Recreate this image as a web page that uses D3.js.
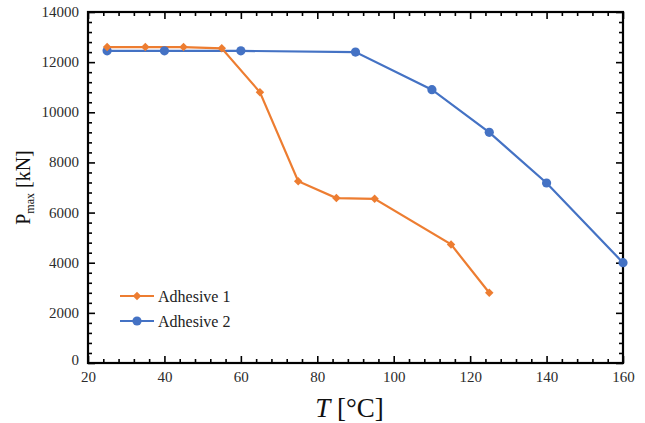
<!DOCTYPE html>
<html>
<head>
<meta charset="utf-8">
<script src="https://cdn.jsdelivr.net/npm/d3@7"></script>
<style>
  body { margin: 0; background: #fff; }
</style>
</head>
<body>
<script>
// data
var temp1 = [25, 35, 45, 55, 65, 75, 85, 95, 115, 125];
var pmax1 = [12600, 12600, 12600, 12550, 10800, 7250, 6580, 6550, 4730, 2800];
var temp2 = [25, 40, 60, 90, 110, 125, 140, 160];
var pmax2 = [12450, 12450, 12450, 12400, 10900, 9200, 7180, 4000];
var seriesNames = ["Adhesive 1", "Adhesive 2"];
var xTicks = [20, 40, 60, 80, 100, 120, 140, 160];
var yTicks = [0, 2000, 4000, 6000, 8000, 10000, 12000, 14000];

var svgWidth = 645, svgHeight = 423;
var margin = {top: 12, right: 22, bottom: 60, left: 88},
    width = svgWidth - margin.left - margin.right,
    height = svgHeight - margin.top - margin.bottom;

var orange = "#ED7D31", blue = "#4472C4";
var serif = "Times New Roman, Liberation Serif, DejaVu Serif";

var svg = d3.select("body").append("svg")
    .attr("width", svgWidth)
    .attr("height", svgHeight);
var g = svg.append("g")
    .attr("transform", "translate(" + margin.left + "," + margin.top + ")");

var x = d3.scaleLinear().domain([20, 160]).range([0, width]);
var y = d3.scaleLinear().domain([0, 14000]).range([height, 0]);

var xMinor = d3.range(20, 160.1, 4).filter(function(v) { return v % 20 != 0; });
var yMinor = d3.range(0, 14000.1, 400).filter(function(v) { return v % 2000 != 0; });

// inward ticks on all four sides
function tickAxis(axis, major, minor, transform, labels) {
  var a = g.append("g").attr("transform", transform);
  a.call(axis.tickValues(minor).tickSize(-4).tickFormat(""));
  var b = g.append("g").attr("transform", transform);
  b.call(axis.tickValues(major).tickSize(-7).tickFormat(labels ? d3.format("d") : ""));
  [a, b].forEach(function(s) {
    s.attr("font-family", serif).attr("font-size", 15);
    s.select(".domain").remove();
    s.selectAll(".tick line").attr("stroke", "#000").attr("stroke-width", 1.6);
    s.selectAll(".tick text").attr("fill", "#2b2b2b");
  });
  return b;
}

var xb = tickAxis(d3.axisBottom(x), xTicks, xMinor, "translate(0," + height + ")", true);
xb.selectAll(".tick text").attr("dy", "1.05em").attr("y", 3);
tickAxis(d3.axisTop(x), xTicks, xMinor, "translate(0,0)", false);
var yl = tickAxis(d3.axisLeft(y), yTicks, yMinor, "translate(0,0)", true);
yl.selectAll(".tick text").attr("x", -9).attr("dy", "0.3em");
yl.selectAll(".tick").filter(function(d) { return d === 0; }).select("text").attr("dy", "0.1em");
tickAxis(d3.axisRight(y), yTicks, yMinor, "translate(" + width + ",0)", false);

// frame
g.append("rect")
  .attr("width", width).attr("height", height)
  .attr("fill", "none").attr("stroke", "#000").attr("stroke-width", 2.2);

// lines
var data1 = temp1.map(function(t, i) { return {t: t, p: pmax1[i]}; });
var data2 = temp2.map(function(t, i) { return {t: t, p: pmax2[i]}; });

var line = d3.line()
  .x(function(d) { return x(d.t); })
  .y(function(d) { return y(d.p); });

g.append("path").datum(data2)
  .attr("d", line).attr("fill", "none")
  .attr("stroke", blue).attr("stroke-width", 2.2);
g.append("path").datum(data1)
  .attr("d", line).attr("fill", "none")
  .attr("stroke", orange).attr("stroke-width", 2.2);

var diamond = d3.symbol().type(d3.symbolSquare).size(36);

g.selectAll(".pt2").data(data2).enter().append("circle")
  .attr("cx", function(d) { return x(d.t); })
  .attr("cy", function(d) { return y(d.p); })
  .attr("r", 4.6).attr("fill", blue);
g.selectAll(".pt1").data(data1).enter().append("path")
  .attr("d", diamond)
  .attr("transform", function(d) { return "translate(" + x(d.t) + "," + y(d.p) + ") rotate(45)"; })
  .attr("fill", orange);

// legend
var legend = g.append("g").attr("transform", "translate(32,284)")
  .attr("font-family", serif);
[orange, blue].forEach(function(c, i) {
  var row = legend.append("g").attr("transform", "translate(0," + (i * 25) + ")");
  row.append("line").attr("x1", 0).attr("x2", 34).attr("stroke", c).attr("stroke-width", 2.2);
  if (i == 0) row.append("path").attr("d", diamond).attr("transform", "translate(17,0) rotate(45)").attr("fill", c);
  else row.append("circle").attr("cx", 17).attr("r", 4.6).attr("fill", c);
  row.append("text").attr("x", 38).attr("dy", "0.35em")
    .attr("font-size", 16).attr("fill", "#222").text(seriesNames[i]);
});

// axis titles
var yt = svg.append("text")
  .attr("transform", "translate(30," + (margin.top + height / 2) + ") rotate(-90)")
  .attr("text-anchor", "middle").attr("font-size", 20).attr("fill", "#111")
  .attr("font-family", serif);
yt.append("tspan").text("P");
yt.append("tspan").attr("font-size", 12).attr("dy", 4).text("max");
yt.append("tspan").attr("dy", -4).text(" [kN]");

var xt = svg.append("text")
  .attr("x", margin.left + width / 2 - 6).attr("y", 417)
  .attr("text-anchor", "middle").attr("font-size", 27).attr("fill", "#111")
  .attr("font-family", serif);
xt.append("tspan").attr("font-style", "italic").text("T");
xt.append("tspan").text(" [°C]");
</script>
</body>
</html>
